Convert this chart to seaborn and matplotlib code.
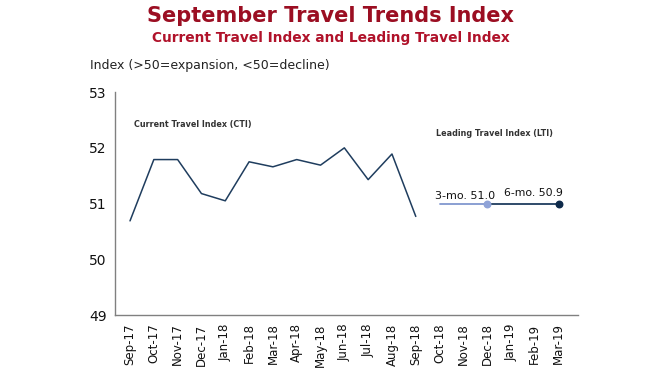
import matplotlib
matplotlib.use("Agg")
import matplotlib.pyplot as plt
import seaborn as sns
import pandas as pd

months = ["Sep-17", "Oct-17", "Nov-17", "Dec-17", "Jan-18", "Feb-18", "Mar-18",
          "Apr-18", "May-18", "Jun-18", "Jul-18", "Aug-18", "Sep-18", "Oct-18",
          "Nov-18", "Dec-18", "Jan-19", "Feb-19", "Mar-19"]
cti_months = months[:13]
cti_values = [50.69, 51.79, 51.79, 51.18, 51.05, 51.75, 51.66, 51.79, 51.69, 52.0, 51.43, 51.89, 50.77]
lti_3mo_months = ["Oct-18", "Dec-18"]
lti_3mo_values = [51.0, 51.0]
lti_6mo_months = ["Dec-18", "Mar-19"]
lti_6mo_values = [51.0, 51.0]
lti_labels = ["3-mo. 51.0", "6-mo. 50.9"]

sns.set_theme(style="white")
plt.rcParams["font.family"] = ["DejaVu Sans"]

pos = {m: i for i, m in enumerate(months)}
cti_df = pd.DataFrame({"x": [pos[m] for m in cti_months], "y": cti_values})
l3_df = pd.DataFrame({"x": [pos[m] for m in lti_3mo_months], "y": lti_3mo_values})
l6_df = pd.DataFrame({"x": [pos[m] for m in lti_6mo_months], "y": lti_6mo_values})

fig = plt.figure(figsize=(6.61, 3.76), dpi=100)
ax = fig.add_axes([0.174, 0.162, 0.700, 0.593])

navy = "#1f3d5e"
light = "#8197cf"
sns.lineplot(data=cti_df, x="x", y="y", ax=ax, color=navy, linewidth=1.1, sort=False)
sns.lineplot(data=l3_df, x="x", y="y", ax=ax, color=light, linewidth=1.3, sort=False)
sns.lineplot(data=l6_df, x="x", y="y", ax=ax, color=navy, linewidth=1.3, sort=False)
ax.scatter([l3_df["x"].iloc[-1]], [l3_df["y"].iloc[-1]], s=22, color="#8fa3d8", zorder=5)
ax.scatter([l6_df["x"].iloc[-1]], [l6_df["y"].iloc[-1]], s=22, color="#0e2a4a", zorder=5)

ax.set_xlim(-0.63, 18.8)
ax.set_ylim(49, 53)
ax.set_yticks([49, 50, 51, 52, 53])
ax.set_yticklabels(["49", "50", "51", "52", "53"], fontsize=10, color="#111111")
ax.set_xticks(range(len(months)))
ax.set_xticklabels(months, rotation=90, fontsize=8.5, color="#111111")
ax.tick_params(axis="both", length=0, pad=6)
ax.set_xlabel("")
ax.set_ylabel("")
for s in ["top", "right"]:
    ax.spines[s].set_visible(False)
for s in ["left", "bottom"]:
    ax.spines[s].set_color("#808080")
    ax.spines[s].set_linewidth(1.0)

ax.text(0.15, 52.42, "Current Travel Index (CTI)", fontsize=5.8, fontweight="bold", color="#333333", va="center")
ax.text(12.85, 52.25, "Leading Travel Index (LTI)", fontsize=5.8, fontweight="bold", color="#333333", va="center")
ax.text(12.8, 51.05, lti_labels[0], fontsize=8, color="#111111", ha="left", va="bottom")
ax.text(15.7, 51.1, lti_labels[1], fontsize=7.8, color="#111111", ha="left", va="bottom")

fig.text(0.5, 0.958, "September Travel Trends Index", ha="center", va="center",
         fontsize=15, fontweight="bold", color="#9b0e22")
fig.text(0.5, 0.898, "Current Travel Index and Leading Travel Index", ha="center", va="center",
         fontsize=9.9, fontweight="bold", color="#b0122a")
fig.text(0.136, 0.825, "Index (>50=expansion, <50=decline)", ha="left", va="center",
         fontsize=9, color="#222222")

fig.savefig("out.png", dpi=100)
